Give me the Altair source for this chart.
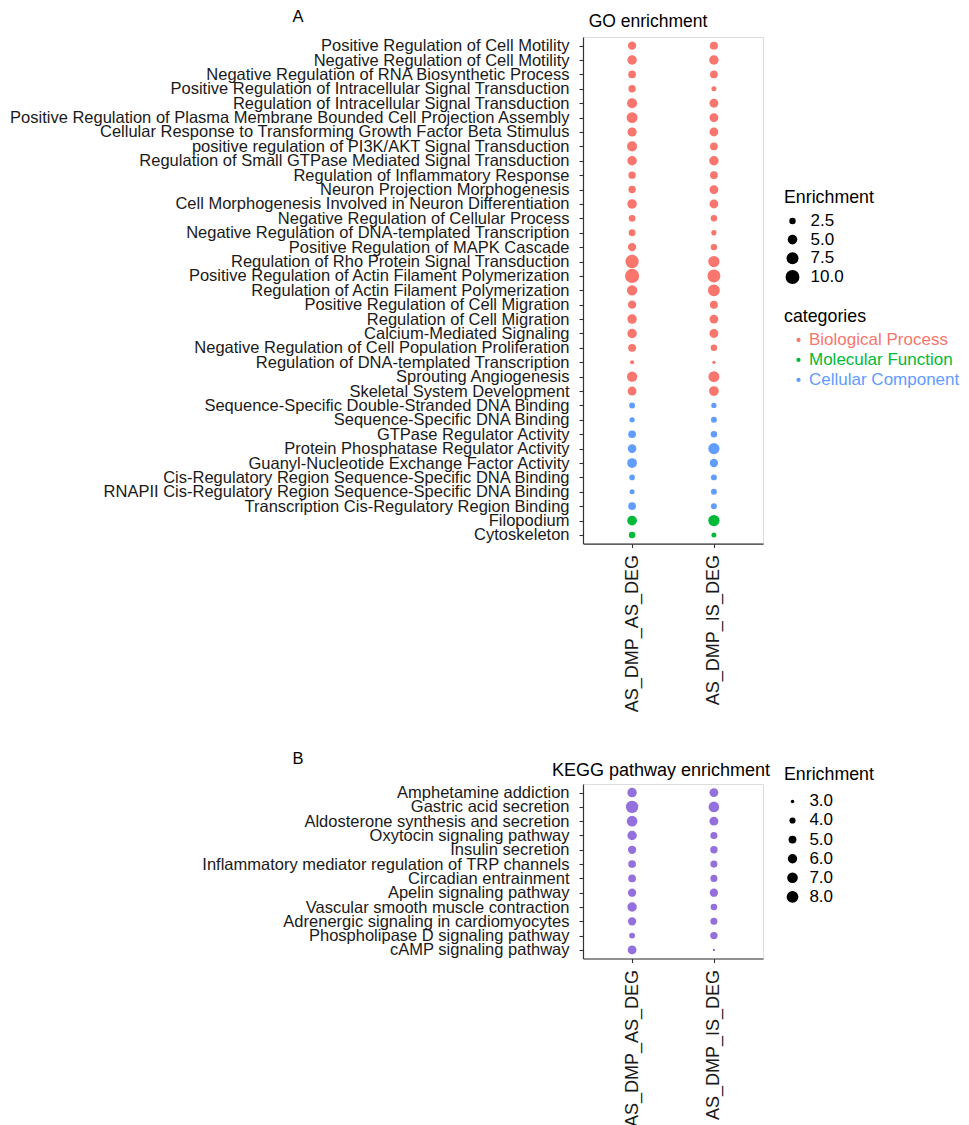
import altair as alt
import pandas as pd

groups = ["AS_DMP_AS_DEG", "AS_DMP_IS_DEG"]

go_terms = [
    "Positive Regulation of Cell Motility",
    "Negative Regulation of Cell Motility",
    "Negative Regulation of RNA Biosynthetic Process",
    "Positive Regulation of Intracellular Signal Transduction",
    "Regulation of Intracellular Signal Transduction",
    "Positive Regulation of Plasma Membrane Bounded Cell Projection Assembly",
    "Cellular Response to Transforming Growth Factor Beta Stimulus",
    "positive regulation of PI3K/AKT Signal Transduction",
    "Regulation of Small GTPase Mediated Signal Transduction",
    "Regulation of Inflammatory Response",
    "Neuron Projection Morphogenesis",
    "Cell Morphogenesis Involved in Neuron Differentiation",
    "Negative Regulation of Cellular Process",
    "Negative Regulation of DNA-templated Transcription",
    "Positive Regulation of MAPK Cascade",
    "Regulation of Rho Protein Signal Transduction",
    "Positive Regulation of Actin Filament Polymerization",
    "Regulation of Actin Filament Polymerization",
    "Positive Regulation of Cell Migration",
    "Regulation of Cell Migration",
    "Calcium-Mediated Signaling",
    "Negative Regulation of Cell Population Proliferation",
    "Regulation of DNA-templated Transcription",
    "Sprouting Angiogenesis",
    "Skeletal System Development",
    "Sequence-Specific Double-Stranded DNA Binding",
    "Sequence-Specific DNA Binding",
    "GTPase Regulator Activity",
    "Protein Phosphatase Regulator Activity",
    "Guanyl-Nucleotide Exchange Factor Activity",
    "Cis-Regulatory Region Sequence-Specific DNA Binding",
    "RNAPII Cis-Regulatory Region Sequence-Specific DNA Binding",
    "Transcription Cis-Regulatory Region Binding",
    "Filopodium",
    "Cytoskeleton",
]
go_categories = (["Biological Process"] * 25 + ["Cellular Component"] * 8
                 + ["Molecular Function"] * 2)
go_as_dmp_as_deg = [3.82, 4.86, 3.35, 3.13, 5.43, 6.35, 4.58, 5.43, 4.86, 3.13,
                    3.13, 4.86, 2.72, 2.72, 3.82, 9.18, 10.39, 5.72, 3.82, 4.86,
                    4.86, 3.58, 1.28, 5.72, 4.32, 2.16, 1.83, 3.35, 4.06, 5.14,
                    1.99, 1.68, 3.35, 5.14, 2.52]
go_as_dmp_is_deg = [3.58, 4.86, 3.35, 1.68, 4.32, 4.32, 4.32, 3.35, 4.86, 3.35,
                    4.32, 4.32, 2.52, 1.83, 2.52, 6.67, 8.8, 7.35, 3.58, 4.32,
                    4.32, 2.52, 0.95, 6.35, 5.14, 1.83, 2.16, 2.52, 6.67, 3.82,
                    2.16, 2.16, 2.16, 6.67, 1.68]

category_order = ["Biological Process", "Molecular Function", "Cellular Component"]
category_colors = ["#F8766D", "#00BA38", "#619CFF"]
go_size_breaks = [2.5, 5.0, 7.5, 10.0]

kegg_terms = [
    "Amphetamine addiction",
    "Gastric acid secretion",
    "Aldosterone synthesis and secretion",
    "Oxytocin signaling pathway",
    "Insulin secretion",
    "Inflammatory mediator regulation of TRP channels",
    "Circadian entrainment",
    "Apelin signaling pathway",
    "Vascular smooth muscle contraction",
    "Adrenergic signaling in cardiomyocytes",
    "Phospholipase D signaling pathway",
    "cAMP signaling pathway",
]
kegg_as_dmp_as_deg = [6.06, 8.6, 7.0, 6.06, 5.22, 4.85, 4.85, 5.22, 6.06, 5.22, 3.89, 5.63]
kegg_as_dmp_is_deg = [5.63, 7.0, 5.63, 4.5, 4.67, 4.5, 4.5, 5.22, 4.18, 4.5, 4.67, 2.72]
kegg_size_breaks = [3.0, 4.0, 5.0, 6.0, 7.0, 8.0]
kegg_color = "#9370DB"

go_df = pd.DataFrame({
    "term": go_terms * 2,
    "category": go_categories * 2,
    "group": [groups[0]] * len(go_terms) + [groups[1]] * len(go_terms),
    "Enrichment": go_as_dmp_as_deg + go_as_dmp_is_deg,
})
kegg_df = pd.DataFrame({
    "term": kegg_terms * 2,
    "set": ["KEGG"] * (2 * len(kegg_terms)),
    "group": [groups[0]] * len(kegg_terms) + [groups[1]] * len(kegg_terms),
    "Enrichment": kegg_as_dmp_as_deg + kegg_as_dmp_is_deg,
})

FONT = "Liberation Sans"
AX_COL = "#333333"
LBL_COL = "#1a1a1a"

x_axis = alt.Axis(title=None, labelAngle=270, labelFontSize=18, labelPadding=7,
                  tickSize=4, domainColor=AX_COL, tickColor=AX_COL, labelColor=LBL_COL,
                  domainWidth=1.2, tickWidth=1.1, grid=False)
y_axis = alt.Axis(title=None, labelFontSize=16.5, labelPadding=10, tickSize=4,
                  labelLimit=1000, domainColor=AX_COL, tickColor=AX_COL,
                  labelColor=LBL_COL, domainWidth=1.2, tickWidth=1.1, grid=False)

label_expr = ("datum.label === 'Biological Process' ? '#F8766D' : "
              "datum.label === 'Molecular Function' ? '#00BA38' : '#619CFF'")


def text_layer(txt, size, x, y):
    return alt.Chart(pd.DataFrame({"t": [txt]})).mark_text(
        fontSize=size, align="center", baseline="alphabetic", color="black"
    ).encode(text="t:N", x=alt.value(x), y=alt.value(y))


go_points = alt.Chart(go_df).mark_circle(opacity=1).encode(
    x=alt.X("group:N", sort=groups, axis=x_axis,
            scale=alt.Scale(type="point", padding=0.6)),
    y=alt.Y("term:N", sort=go_terms, axis=y_axis,
            scale=alt.Scale(type="point", padding=0.6)),
    size=alt.Size("Enrichment:Q",
                  scale=alt.Scale(domain=[0.43, 11], range=[0, 213.3], zero=False),
                  legend=alt.Legend(title="Enrichment", values=go_size_breaks, format=".1f",
                                    orient="none", legendX=201, legendY=151.6,
                                    titleFontSize=17.8, titleFontWeight="normal",
                                    titleColor="black", labelFontSize=17, labelColor="black",
                                    symbolFillColor="black", symbolStrokeWidth=0,
                                    symbolOpacity=1, labelOffset=9.6, rowPadding=0.7,
                                    titlePadding=6, padding=0)),
    color=alt.Color("category:N",
                    scale=alt.Scale(domain=category_order, range=category_colors),
                    legend=alt.Legend(title="categories", orient="none", legendX=201,
                                      legendY=270.6, titleFontSize=17.8,
                                      titleFontWeight="normal", titleColor="black",
                                      labelFontSize=17, labelColor={"expr": label_expr},
                                      symbolType="circle", symbolSize=18, symbolOffset=6,
                                      labelOffset=2, rowPadding=2, titlePadding=6,
                                      padding=0, symbolStrokeWidth=0)),
)

go_chart = alt.layer(
    go_points,
    text_layer("A", 16.5, -285, -15.4),
    text_layer("GO enrichment", 17.5, 65, -9.7),
).properties(width=180, height=506.6)

kegg_points = alt.Chart(kegg_df).mark_circle(opacity=1).encode(
    x=alt.X("group:N", sort=groups, axis=x_axis,
            scale=alt.Scale(type="point", padding=0.6)),
    y=alt.Y("term:N", sort=kegg_terms, axis=y_axis,
            scale=alt.Scale(type="point", padding=0.6)),
    color=alt.Color("set:N", scale=alt.Scale(range=[kegg_color]), legend=None),
    size=alt.Size("Enrichment:Q",
                  scale=alt.Scale(domain=[2.5, 9], range=[0, 163.3], zero=False),
                  legend=alt.Legend(title="Enrichment", values=kegg_size_breaks, format=".1f",
                                    orient="none", legendX=201, legendY=-18.4,
                                    titleFontSize=17.8, titleFontWeight="normal",
                                    titleColor="black", labelFontSize=17, labelColor="black",
                                    symbolFillColor="black", symbolStrokeWidth=0,
                                    symbolOpacity=1, labelOffset=8.4, rowPadding=1.1,
                                    titlePadding=9.5, padding=0)),
)

kegg_chart = alt.layer(
    kegg_points,
    text_layer("B", 16.5, -285, -20),
    text_layer("KEGG pathway enrichment", 18, 78, -8.1),
).properties(width=180, height=174.5)

chart = alt.vconcat(go_chart, kegg_chart, spacing=37).resolve_scale(
    x="independent", y="independent", size="independent", color="independent"
).resolve_legend(size="independent", color="independent").properties(
    padding={"left": 0, "top": 0, "right": 0, "bottom": 0}
).configure_view(stroke=None).configure(font=FONT).configure_axis(grid=False)

chart.save("out.html", embed_options={"renderer": "svg", "actions": False})
